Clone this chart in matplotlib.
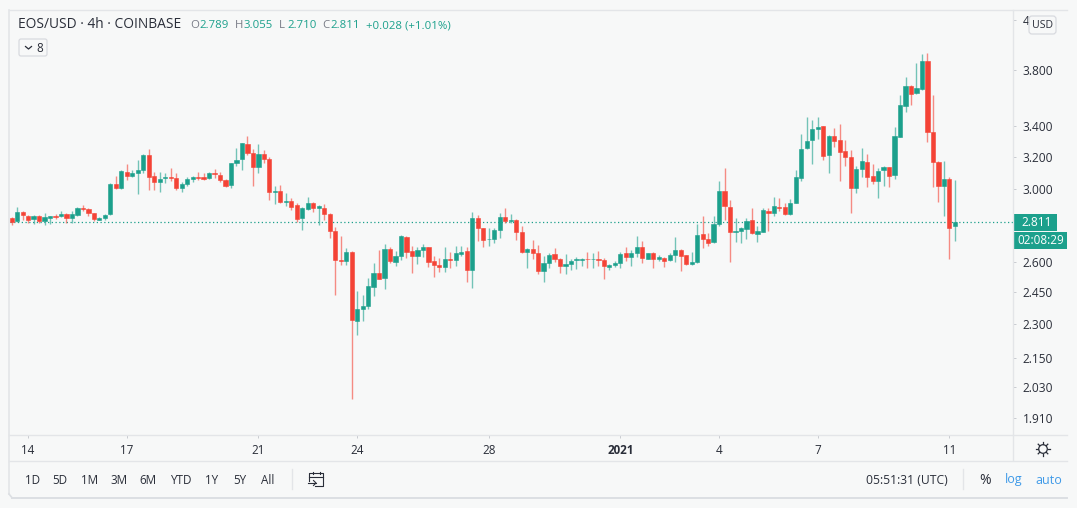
import numpy as np
import matplotlib
matplotlib.use('Agg')
import matplotlib.pyplot as plt
from matplotlib.patches import FancyBboxPatch, Rectangle, Circle

plt.rcParams['font.family'] = ['Open Sans', 'DejaVu Sans']

# EOS/USD 4h candles
opens = [2.837,2.820,2.868,2.847,2.832,2.845,2.818,2.837,2.847,2.845,
         2.860,2.835,2.852,2.892,2.887,2.862,2.826,2.833,2.856,3.030,
         3.010,3.103,3.080,3.097,3.118,3.211,3.082,3.046,3.068,3.074,
         3.068,3.010,3.032,3.062,3.074,3.072,3.066,3.101,3.087,3.056,
         3.028,3.161,3.186,3.282,3.226,3.134,3.220,3.186,2.983,2.991,
         2.927,2.930,2.911,2.837,2.887,2.919,2.894,2.894,2.858,2.765,
         2.609,2.604,2.653,2.310,2.369,2.380,2.475,2.544,2.518,2.667,
         2.601,2.630,2.729,2.656,2.630,2.661,2.676,2.602,2.584,2.573,
         2.614,2.611,2.642,2.654,2.556,2.833,2.780,2.717,2.717,2.769,
         2.843,2.818,2.824,2.760,2.649,2.667,2.646,2.553,2.595,2.639,
         2.616,2.578,2.587,2.607,2.609,2.614,2.613,2.614,2.611,2.575,
         2.582,2.592,2.644,2.627,2.647,2.679,2.616,2.644,2.613,2.621,
         2.609,2.637,2.663,2.634,2.589,2.597,2.745,2.718,2.704,2.804,
         2.993,2.900,2.756,2.765,2.775,2.824,2.747,2.760,2.875,2.864,
         2.900,2.898,2.856,2.923,3.070,3.255,3.306,3.380,3.400,3.211,
         3.335,3.306,3.236,3.199,3.006,3.122,3.170,3.078,3.050,3.118,
         3.136,3.084,3.330,3.540,3.680,3.634,3.660,3.868,3.358,3.170,3.022,3.060,2.789]
closes = [2.811,2.870,2.852,2.826,2.847,2.817,2.839,2.845,2.843,2.860,
          2.833,2.856,2.892,2.888,2.862,2.828,2.837,2.852,3.030,3.010,
          3.111,3.082,3.097,3.118,3.211,3.074,3.046,3.060,3.072,3.068,
          3.010,3.032,3.062,3.074,3.068,3.062,3.099,3.091,3.058,3.022,
          3.159,3.182,3.286,3.224,3.134,3.218,3.186,2.985,2.991,2.925,
          2.932,2.900,2.832,2.892,2.919,2.892,2.902,2.856,2.765,2.611,
          2.604,2.653,2.316,2.367,2.382,2.478,2.543,2.514,2.665,2.604,
          2.630,2.736,2.651,2.630,2.660,2.675,2.597,2.584,2.573,2.614,
          2.611,2.644,2.651,2.556,2.835,2.778,2.715,2.722,2.771,2.843,
          2.818,2.822,2.760,2.649,2.667,2.644,2.551,2.595,2.635,2.614,
          2.577,2.587,2.606,2.614,2.614,2.613,2.614,2.611,2.577,2.582,
          2.592,2.640,2.625,2.647,2.676,2.618,2.644,2.613,2.623,2.606,
          2.637,2.661,2.632,2.587,2.599,2.742,2.720,2.700,2.804,2.993,
          2.902,2.756,2.765,2.778,2.820,2.751,2.762,2.879,2.866,2.906,
          2.894,2.856,2.923,3.074,3.249,3.300,3.380,3.394,3.205,3.337,
          3.299,3.230,3.199,3.008,3.126,3.174,3.072,3.050,3.113,3.138,
          3.080,3.337,3.545,3.685,3.622,3.665,3.866,3.358,3.170,3.020,3.060,2.781,2.811]
highs = [2.843,2.900,2.872,2.852,2.852,2.852,2.862,2.847,2.856,2.877,
         2.862,2.877,2.900,2.908,2.892,2.866,2.843,2.858,3.036,3.080,
         3.118,3.152,3.118,3.180,3.218,3.253,3.108,3.108,3.101,3.128,
         3.097,3.046,3.072,3.080,3.108,3.097,3.108,3.122,3.108,3.060,
         3.163,3.254,3.286,3.335,3.253,3.279,3.244,3.197,3.020,3.024,
         2.981,2.948,2.923,2.900,2.956,2.929,2.911,2.913,2.862,2.787,
         2.736,2.670,2.658,2.452,2.432,2.516,2.592,2.661,2.691,2.679,
         2.656,2.742,2.736,2.684,2.676,2.695,2.679,2.630,2.621,2.676,
         2.653,2.684,2.682,2.676,2.869,2.852,2.782,2.778,2.782,2.866,
         2.891,2.858,2.830,2.791,2.670,2.715,2.688,2.630,2.644,2.670,
         2.618,2.639,2.613,2.627,2.618,2.649,2.647,2.658,2.618,2.589,
         2.606,2.653,2.676,2.661,2.738,2.711,2.647,2.653,2.635,2.627,
         2.644,2.729,2.665,2.635,2.653,2.800,2.847,2.751,2.849,3.050,
         3.132,2.938,2.833,2.787,2.833,2.891,2.791,2.891,2.891,2.958,
         2.951,2.919,2.944,3.118,3.347,3.464,3.441,3.459,3.403,3.341,
         3.385,3.412,3.308,3.243,3.142,3.258,3.216,3.155,3.128,3.144,
         3.138,3.392,3.620,3.744,3.687,3.856,3.926,3.933,3.615,3.176,3.176,3.076,3.055]
lows = [2.798,2.815,2.824,2.805,2.802,2.805,2.796,2.802,2.832,2.839,
        2.809,2.805,2.849,2.873,2.849,2.818,2.822,2.826,2.852,3.000,
        3.002,3.056,3.076,2.975,3.097,2.997,2.997,2.985,3.036,3.050,
        2.997,2.987,3.020,3.042,3.056,3.056,3.062,3.066,3.046,3.016,
        3.006,3.142,3.118,3.211,3.022,3.101,3.159,2.938,2.914,2.919,
        2.904,2.881,2.815,2.771,2.881,2.868,2.796,2.824,2.724,2.432,
        2.585,2.584,1.983,2.251,2.310,2.367,2.430,2.513,2.462,2.592,
        2.580,2.609,2.618,2.544,2.587,2.627,2.573,2.525,2.549,2.549,
        2.566,2.580,2.630,2.498,2.470,2.711,2.676,2.682,2.697,2.724,
        2.805,2.805,2.715,2.644,2.570,2.613,2.538,2.500,2.566,2.601,
        2.541,2.536,2.558,2.563,2.578,2.570,2.566,2.578,2.511,2.558,
        2.571,2.568,2.604,2.580,2.627,2.592,2.613,2.566,2.602,2.571,
        2.606,2.601,2.553,2.584,2.585,2.592,2.670,2.682,2.700,2.791,
        2.824,2.597,2.706,2.697,2.718,2.745,2.706,2.756,2.764,2.849,
        2.875,2.852,2.852,2.919,3.050,3.249,3.155,3.312,3.180,3.101,
        3.260,3.052,3.142,2.866,2.977,3.076,3.012,3.030,2.951,3.020,
        3.012,3.060,3.326,3.498,3.549,3.627,3.656,3.297,3.016,2.925,2.847,2.614,2.710]

price_ticks = [4.195, 3.8, 3.4, 3.2, 3.0, 2.6, 2.45, 2.3, 2.15, 2.03, 1.91]
price_labels = ['4', '3.800', '3.400', '3.200', '3.000', '2.600', '2.450', '2.300', '2.150', '2.030', '1.910']
date_ticks = [3, 21, 45, 63, 87, 111, 129, 147, 171]
date_labels = ['14', '17', '21', '24', '28', '2021', '4', '7', '11']
last_price = 2.811

GREEN = '#1ca08c'
RED = '#f44336'
BG = '#f7f8f8'
LINE = '#e3e5e8'
DARK = '#2a2e39'
W, H = 1077, 508

fig = plt.figure(figsize=(W / 100, H / 100), dpi=100, facecolor=BG)
ax = fig.add_axes([10 / W, 1 - 434.5 / H, (1013 - 10) / W, (434.5 - 10) / H], facecolor=BG)

o = np.array(opens)
c = np.array(closes)
colors = [GREEN if b >= a else RED for a, b in zip(o, c)]
x = np.arange(len(o))

ax.vlines(x, lows, highs, colors=colors, linewidth=1.0, alpha=0.6, zorder=2)
ax.bar(x, np.abs(c - o), bottom=np.minimum(o, c), width=0.76, color=colors,
       edgecolor=colors, linewidth=0.4, zorder=3)
ax.axhline(last_price, color=GREEN, linewidth=0.9, linestyle=(0, (1, 2)), zorder=1)

ax.set_yscale('log')
ax.set_xlim(-0.3, 182.6)
ax.set_ylim(1.847, 4.279)
ax.yaxis.tick_right()
ax.set_yticks(price_ticks)
ax.set_yticklabels(price_labels)
ax.yaxis.set_minor_locator(plt.NullLocator())
ax.set_xticks(date_ticks)
ax.set_xticklabels(date_labels)
ax.tick_params(axis='y', length=2.5, width=0.7, color='#c8cbd0', labelsize=8.6, labelcolor=DARK, pad=4.5)
ax.tick_params(axis='x', length=2, width=0.7, color='#c8cbd0', labelsize=8.4, labelcolor=DARK, pad=5)
for lab in ax.get_xticklabels():
    if lab.get_text() == '2021':
        lab.set_fontweight('bold')
for s in ax.spines.values():
    s.set_visible(False)

# toolbar, borders and header drawn in pixel coordinates
ui = fig.add_axes([0, 0, 1, 1], facecolor='none')
ui.set_xlim(0, W)
ui.set_ylim(H, 0)
ui.axis('off')

ui.plot([9, 1067], [10, 10], color=LINE, lw=1)
ui.plot([9, 9], [10, 494], color=LINE, lw=1.2)
ui.plot([9, 1067], [434.5, 434.5], color=LINE, lw=1)
ui.plot([9, 1067], [460.5, 460.5], color=LINE, lw=1)
ui.plot([1013, 1013], [10, 460], color=LINE, lw=1)
ui.plot([12, 1067], [497.7, 497.7], color='#dcdfe3', lw=1.4)
ui.plot([9, 12], [494, 497.7], color='#dcdfe3', lw=1.2)

ui.text(18, 25, 'EOS/USD · 4h · COINBASE', fontsize=9.9, color=DARK, va='center')
for px, s, col in [(190, 'O', '#787b86'), (199, '2.789', GREEN), (235, 'H', '#787b86'), (243, '3.055', GREEN),
                   (279, 'L', '#787b86'), (287, '2.710', GREEN), (322, 'C', '#787b86'), (330, '2.811', GREEN),
                   (366, '+0.028 (+1.01%)', GREEN)]:
    ui.text(px, 26, s, fontsize=8.2, color=col, va='center')

ui.add_patch(FancyBboxPatch((19, 39), 28, 17, boxstyle='round,pad=0,rounding_size=2',
                            facecolor=BG, edgecolor='#d8dadf', lw=0.9))
ui.plot([25.5, 28.5, 31.5], [46.5, 49, 46.5], color=DARK, lw=0.9)
ui.text(40, 48, '8', fontsize=8.4, color=DARK, ha='center', va='center')

ui.add_patch(FancyBboxPatch((1029, 16), 27, 18, boxstyle='round,pad=0,rounding_size=3',
                            facecolor=BG, edgecolor='#d8dadf', lw=0.9))
ui.text(1042.5, 25, 'USD', fontsize=7.6, color=DARK, ha='center', va='center')

ui.add_patch(Rectangle((1013, 214), 44, 17, facecolor=GREEN, edgecolor='none'))
ui.text(1021, 222.5, '2.811', fontsize=8.6, color='white', va='center')
ui.add_patch(Rectangle((1013.5, 232), 53.5, 17, facecolor=GREEN, edgecolor='none'))
ui.text(1017, 240.5, '02:08:29', fontsize=8.4, color='white', va='center')

# gear / sun icon
ui.add_patch(Circle((1043, 449), 4.3, facecolor='none', edgecolor=DARK, lw=0.9))
for a in np.arange(8) * np.pi / 4:
    ui.plot([1043 + 4.6 * np.cos(a), 1043 + 6.8 * np.cos(a)],
            [449 + 4.6 * np.sin(a), 449 + 6.8 * np.sin(a)], color=DARK, lw=0.9)

for px, s in [(33, '1D'), (60, '5D'), (90, '1M'), (119, '3M'), (148, '6M'), (181, 'YTD'),
              (212, '1Y'), (240, '5Y'), (268, 'All')]:
    ui.text(px, 480, s, fontsize=8.4, color=DARK, ha='center', va='center')
ui.plot([292, 292], [469, 489], color=LINE, lw=1)
ui.plot([963, 963], [469, 489], color=LINE, lw=1)

# calendar-arrow icon
ui.plot([309, 309, 323, 323, 315], [481, 473, 473, 486, 486], color=DARK, lw=0.8)
ui.plot([309, 323], [476.5, 476.5], color=DARK, lw=0.8)
ui.plot([312.5, 312.5], [471.5, 474], color=DARK, lw=0.8)
ui.plot([319.5, 319.5], [471.5, 474], color=DARK, lw=0.8)
ui.plot([308, 316], [483, 483], color=DARK, lw=0.8)
ui.plot([313.5, 316, 313.5], [480.5, 483, 485.5], color=DARK, lw=0.8)

ui.text(948, 480, '05:51:31 (UTC)', fontsize=8.7, color=DARK, ha='right', va='center')
ui.text(985, 480, '%', fontsize=10, color=DARK, ha='center', va='center')
ui.text(1014, 480, 'log', fontsize=9, color='#3f9ae8', ha='center', va='center')
ui.text(1049, 480, 'auto', fontsize=9, color='#3f9ae8', ha='center', va='center')

fig.savefig('out.png', dpi=100, facecolor=BG)
plt.close(fig)
